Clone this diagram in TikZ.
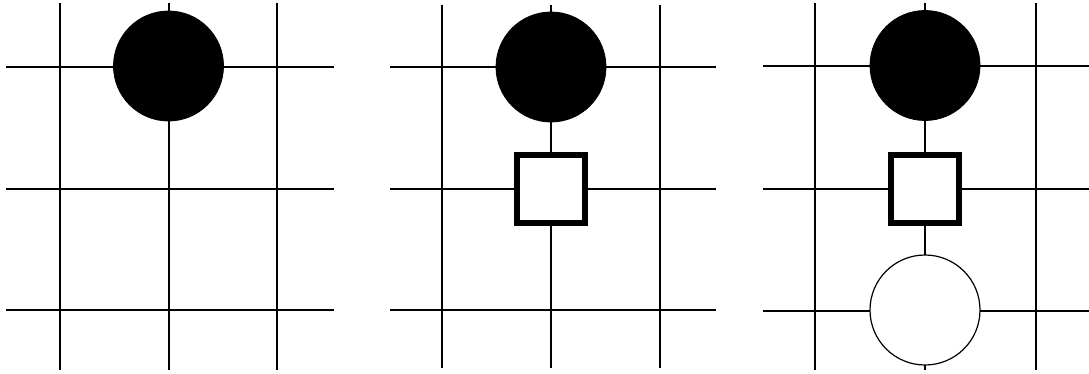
\documentclass[tikz,border=0pt]{standalone}
\begin{document}
\begin{tikzpicture}[x=1pt,y=-1pt,
  grid/.style={line width=1.3pt,black},
  blackstone/.style={circle,fill=black,draw=black,line width=0.8pt,minimum size=110pt,inner sep=0pt},
  whitestone/.style={circle,fill=white,draw=black,line width=1.2pt,minimum size=110pt,inner sep=0pt},
  markbox/.style={rectangle,fill=white,draw=black,line width=6pt,minimum size=68pt,inner sep=0pt}]
\useasboundingbox (0,0) rectangle (1089,373);
% panel 1
\foreach \x in {60,169,277} \draw[grid] (\x,3) -- (\x,370);
\foreach \y in {67,189,310} \draw[grid] (6,\y) -- (334,\y);
\node[blackstone] (b1) at (168.5,66) {};
% panel 2
\foreach \x in {442,551,660} \draw[grid] (\x,4.5) -- (\x,368);
\foreach \y in {67,189,310} \draw[grid] (390,\y) -- (716,\y);
\node[blackstone] (b2) at (551,67) {};
\node[markbox] (s2) at (551,189) {};
% panel 3
\foreach \x in {815,925,1036} \draw[grid] (\x,3) -- (\x,370);
\foreach \y in {66,189,311} \draw[grid] (763,\y) -- (1089,\y);
\node[blackstone] (b3) at (925,65.5) {};
\node[markbox] (s3) at (925,189) {};
\node[whitestone] (w3) at (925,310) {};
\end{tikzpicture}
\end{document}
